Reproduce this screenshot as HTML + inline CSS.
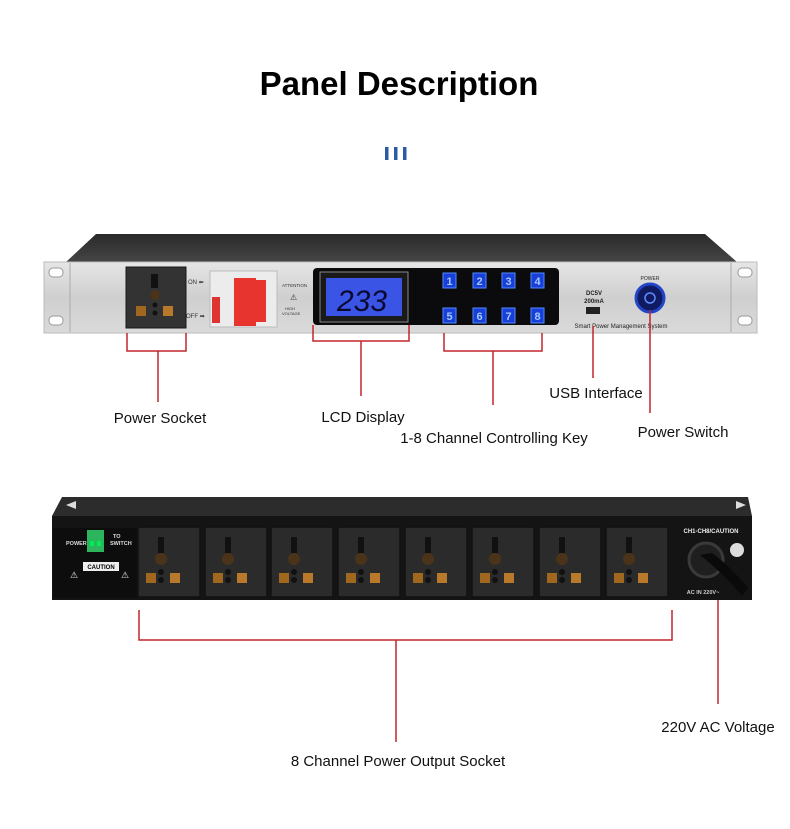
<!DOCTYPE html>
<html><head><meta charset="utf-8"><style>
html,body{margin:0;padding:0;background:#fff;width:790px;height:829px;overflow:hidden}
svg{display:block}
text{font-family:"Liberation Sans",sans-serif}
</style></head><body>
<svg width="790" height="829" viewBox="0 0 790 829" xmlns="http://www.w3.org/2000/svg">
<defs>
<linearGradient id="silver" x1="0" y1="0" x2="0" y2="1">
<stop offset="0" stop-color="#e6e6e6"/><stop offset="0.5" stop-color="#cfcfcf"/><stop offset="1" stop-color="#dadada"/></linearGradient>
<linearGradient id="top" x1="0" y1="0" x2="0" y2="1">
<stop offset="0" stop-color="#2a2a2a"/><stop offset="1" stop-color="#454545"/></linearGradient>
<g id="sock">
<rect x="0" y="0" width="62" height="70" fill="#2b2b2b" stroke="#111" stroke-width="1.5"/>
<rect x="20" y="10" width="6" height="16" fill="#111"/>
<circle cx="23" cy="32" r="6" fill="#4a3318"/>
<circle cx="23" cy="45" r="3" fill="#111"/><circle cx="23" cy="53" r="3" fill="#111"/>
<rect x="8" y="46" width="10" height="10" fill="#a0671f"/>
<rect x="32" y="46" width="10" height="10" fill="#b8792a"/>
</g>
</defs>
<text x="399" y="95" font-size="33" font-weight="bold" text-anchor="middle" fill="#000">Panel Description</text>
<rect x="385" y="147" width="3.5" height="13" fill="#2d5aa5"/>
<rect x="394" y="147" width="3.5" height="13" fill="#2d5aa5"/>
<rect x="403" y="147" width="3.5" height="13" fill="#2d5aa5"/>

<!-- front unit -->
<polygon points="96,234 705,234 737,262 66,262" fill="url(#top)"/>
<rect x="44" y="262" width="713" height="71" fill="url(#silver)" stroke="#bbb"/>
<line x1="70" y1="263" x2="70" y2="332" stroke="#aaa"/>
<line x1="731" y1="263" x2="731" y2="332" stroke="#aaa"/>
<rect x="49" y="268" width="14" height="9" rx="4" fill="#fff" stroke="#999"/>
<rect x="49" y="316" width="14" height="9" rx="4" fill="#fff" stroke="#999"/>
<rect x="738" y="268" width="14" height="9" rx="4" fill="#fff" stroke="#999"/>
<rect x="738" y="316" width="14" height="9" rx="4" fill="#fff" stroke="#999"/>
<rect x="126" y="267" width="60" height="61" fill="#333" stroke="#1a1a1a"/>
<rect x="151" y="274" width="7" height="14" fill="#111"/>
<circle cx="155" cy="295" r="5" fill="#4a3318"/>
<circle cx="155" cy="305" r="2.5" fill="#111"/><circle cx="155" cy="313" r="2.5" fill="#111"/>
<rect x="136" y="306" width="10" height="10" fill="#a0671f"/>
<rect x="163" y="306" width="10" height="10" fill="#b8792a"/>
<text x="188" y="284" font-size="6" fill="#333">ON ⬅</text>
<text x="186" y="318" font-size="6" fill="#333">OFF ➡</text>
<rect x="210" y="271" width="67" height="56" fill="#ececec" stroke="#bbb"/>
<rect x="234" y="278" width="22" height="48" fill="#e8342f"/>
<rect x="256" y="280" width="10" height="42" fill="#e8342f"/>
<rect x="212" y="297" width="8" height="26" fill="#d33"/>
<text x="282" y="287" font-size="4.5" fill="#333">ATTENTION</text>
<text x="290" y="300" font-size="8" fill="#333">⚠</text>
<text x="285" y="310" font-size="4" fill="#333">HIGH</text>
<text x="282" y="315" font-size="4" fill="#333">VOLTAGE</text>
<rect x="313" y="268" width="246" height="57" rx="4" fill="#0b0b0e"/>
<rect x="320" y="272" width="88" height="50" fill="#1a1a1a" stroke="#888"/>
<rect x="326" y="278" width="76" height="38" fill="#3a55e6"/>
<text x="362" y="311" font-size="30" text-anchor="middle" fill="#0a0a30" font-style="italic">233</text>
<g font-size="11" fill="#9fc8ff" text-anchor="middle" font-weight="bold">
<rect x="443" y="273" width="13" height="15" fill="#1a3fd8" stroke="#4f8bff"/><text x="449.5" y="285">1</text>
<rect x="473" y="273" width="13" height="15" fill="#1a3fd8" stroke="#4f8bff"/><text x="479.5" y="285">2</text>
<rect x="502" y="273" width="13" height="15" fill="#1a3fd8" stroke="#4f8bff"/><text x="508.5" y="285">3</text>
<rect x="531" y="273" width="13" height="15" fill="#1a3fd8" stroke="#4f8bff"/><text x="537.5" y="285">4</text>
<rect x="443" y="308" width="13" height="15" fill="#1a3fd8" stroke="#4f8bff"/><text x="449.5" y="320">5</text>
<rect x="473" y="308" width="13" height="15" fill="#1a3fd8" stroke="#4f8bff"/><text x="479.5" y="320">6</text>
<rect x="502" y="308" width="13" height="15" fill="#1a3fd8" stroke="#4f8bff"/><text x="508.5" y="320">7</text>
<rect x="531" y="308" width="13" height="15" fill="#1a3fd8" stroke="#4f8bff"/><text x="537.5" y="320">8</text>
</g>
<text x="594" y="295" font-size="6" font-weight="bold" text-anchor="middle" fill="#222">DC5V</text>
<text x="594" y="303" font-size="6" font-weight="bold" text-anchor="middle" fill="#222">200mA</text>
<rect x="586" y="307" width="14" height="7" fill="#222"/>
<text x="621" y="328" font-size="6" text-anchor="middle" fill="#222">Smart Power Management System</text>
<text x="650" y="280" font-size="5" text-anchor="middle" fill="#222">POWER</text>
<circle cx="650" cy="298" r="14" fill="#0f1a60" stroke="#2245c8" stroke-width="3"/>
<circle cx="650" cy="298" r="5" fill="none" stroke="#5f8cff" stroke-width="1.5"/>

<!-- front callouts -->
<g stroke="#c0252d" stroke-width="1.5" fill="none">
<polyline points="127,333 127,351 186,351 186,333"/>
<line x1="158" y1="351" x2="158" y2="402"/>
<polyline points="313,325 313,341 409,341 409,325"/>
<line x1="361" y1="341" x2="361" y2="396"/>
<polyline points="444,333 444,351 542,351 542,333"/>
<line x1="493" y1="351" x2="493" y2="405"/>
<line x1="593" y1="326" x2="593" y2="378"/>
<line x1="650" y1="310" x2="650" y2="413"/>
</g>
<g font-size="15" fill="#111" text-anchor="middle">
<text x="160" y="423">Power Socket</text>
<text x="363" y="422">LCD Display</text>
<text x="494" y="443">1-8 Channel Controlling Key</text>
<text x="596" y="398">USB Interface</text>
<text x="683" y="437">Power Switch</text>
<text x="398" y="766">8 Channel Power Output Socket</text>
<text x="718" y="732">220V AC Voltage</text>
</g>

<!-- back unit -->
<polygon points="62,497 748,497 752,516 52,516" fill="#2c2c2c"/>
<path d="M66,505 l10,-4 l0,8z M736,501 l10,4 l-10,4z" fill="#ddd"/>
<rect x="52" y="516" width="700" height="84" fill="#141414"/>
<rect x="53" y="528" width="84" height="70" fill="#0d0d0d"/>
<text x="66" y="545" font-size="5.5" fill="#ddd" font-weight="bold">POWER</text>
<text x="113" y="538" font-size="5.5" fill="#ddd" font-weight="bold">TO</text>
<text x="110" y="545" font-size="5.5" fill="#ddd" font-weight="bold">SWITCH</text>
<rect x="87" y="530" width="17" height="22" fill="#2db55d"/>
<rect x="90" y="541" width="4" height="5" fill="#0e5"/>
<rect x="97" y="541" width="4" height="5" fill="#0e5"/>
<rect x="83" y="562" width="36" height="9" fill="#eee"/>
<text x="101" y="569" font-size="6" text-anchor="middle" font-weight="bold">CAUTION</text>
<text x="70" y="578" font-size="9" fill="#eee">⚠</text>
<text x="121" y="578" font-size="9" fill="#eee">⚠</text>
<use href="#sock" x="138" y="527"/>
<use href="#sock" x="205" y="527"/>
<use href="#sock" x="271" y="527"/>
<use href="#sock" x="338" y="527"/>
<use href="#sock" x="405" y="527"/>
<use href="#sock" x="472" y="527"/>
<use href="#sock" x="539" y="527"/>
<use href="#sock" x="606" y="527"/>
<text x="711" y="533" font-size="6" fill="#eee" font-weight="bold" text-anchor="middle">CH1-CH8/CAUTION</text>
<circle cx="706" cy="560" r="17" fill="#1f1f1f" stroke="#3a3a3a" stroke-width="3"/>
<path d="M700,555 Q725,575 742,596 L748,588 Q730,566 712,553 Z" fill="#0a0a0a"/>
<circle cx="737" cy="550" r="7" fill="#ddd"/>
<text x="703" y="594" font-size="5.5" fill="#ccc" font-weight="bold" text-anchor="middle">AC IN 220V~</text>

<g stroke="#c0252d" stroke-width="1.5" fill="none">
<polyline points="139,610 139,640 672,640 672,610"/>
<line x1="396" y1="640" x2="396" y2="742"/>
<line x1="718" y1="600" x2="718" y2="704"/>
</g>
</svg>
</body></html>
